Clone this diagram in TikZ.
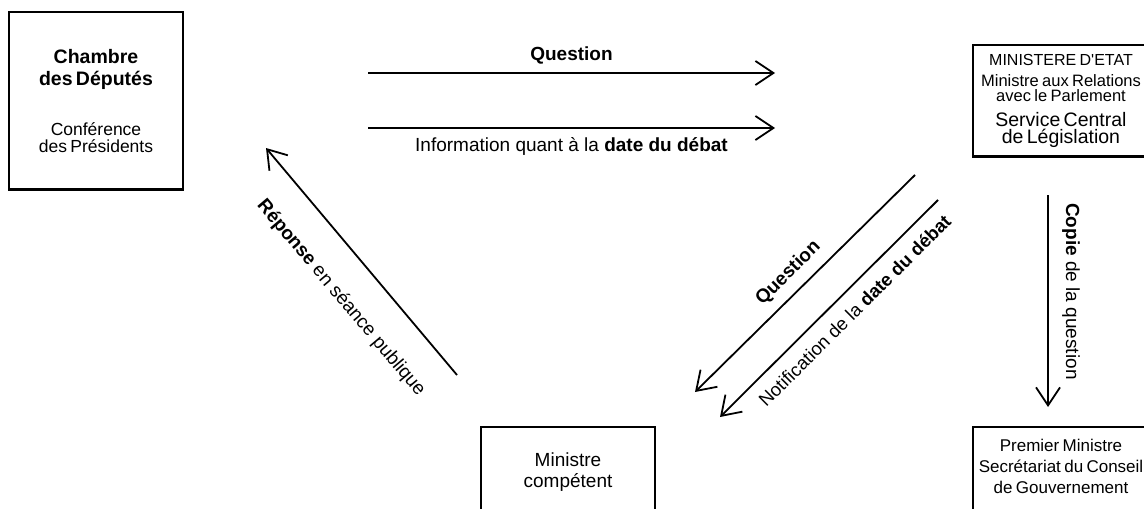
\documentclass[tikz,border=0pt]{standalone}
\usepackage{fontspec}
\setmainfont{Liberation Sans}
\usetikzlibrary{arrows.meta}

\tikzset{
    >={Straight Barb[length=18pt,width=24pt]},
    organe/.style={draw, line width=2.4pt, outer sep=0pt, inner xsep=0pt, align=center, anchor=north},
    fleche/.style={line width=1.8pt},
    etiq/.style={font=\fontsize{19}{22}\selectfont},
    etiqdiag/.style={font=\fontsize{18.5}{22}\selectfont, sloped},
}

\begin{document}
\begin{tikzpicture}[x=1pt,y=-1pt]
    \useasboundingbox (0,0) rectangle (1144,509);
    \clip (0,0) rectangle (1144,509);

    % les organes
    \node[organe, text width=174pt, inner ysep=37.3pt] (chambre) at (96,12)
        {{\fontsize{19.5}{21.7}\selectfont\bfseries Chambre\\des Députés\par}\kern32.3pt
         {\fontsize{17.5}{16.7}\selectfont Conférence\\des Présidents\par}\kern0pt};
    \node[organe, text width=176pt, inner ysep=9.2pt] (etat) at (1061,45)
        {{\fontsize{16}{17}\selectfont MINISTERE D\textquotesingle ETAT\par}\kern7.2pt
         {\fontsize{16.5}{14.4}\selectfont Ministre aux Relations\\avec le Parlement\par}\kern8.3pt
         {\fontsize{19.5}{16.7}\selectfont Service Central\\de Législation\par}\kern0pt};
    \node[organe, text width=176pt, inner ysep=12.5pt] (premier) at (1061,427)
        {\fontsize{17}{21}\selectfont Premier Ministre\\Secrétariat du Conseil\\de Gouvernement\par\kern40pt};
    \node[organe, text width=174pt, inner ysep=26pt] (ministre) at (568,427)
        {\fontsize{19}{20.3}\selectfont Ministre\\compétent\par\kern40pt};

    % les flux
    \coordinate (question-a) at (368,73);
    \coordinate (question-b) at (775,73);
    \coordinate (info-a) at (368,128);
    \coordinate (info-b) at (775,128);
    \coordinate (reponse-a) at (266,148);
    \coordinate (reponse-b) at (457,375);
    \coordinate (transmis-a) at (695,392);
    \coordinate (transmis-b) at (915,175);
    \coordinate (notif-a) at (720,417);
    \coordinate (notif-b) at (938,200);
    \coordinate (copie-a) at (1048,195);
    \coordinate (copie-b) at (1048,407);

    \draw[fleche, ->] (question-a) -- node[etiq, above=5pt] (question) {\textbf{Question}} (question-b);
    \draw[fleche, ->] (info-a) -- node[etiq, below=5.2pt] (info) {Information quant à la \textbf{date du débat}} (info-b);
    \draw[fleche, <-] (reponse-a) -- node[etiqdiag, font=\fontsize{19}{22}\selectfont, below=26pt, pos=0.55] (reponse) {\textbf{Réponse} en séance publique} (reponse-b);
    \draw[fleche, <-] (transmis-a) -- node[etiqdiag, font=\fontsize{19}{22}\selectfont, above=6.1pt, pos=0.485] (transmis) {\textbf{Question}} (transmis-b);
    \draw[fleche, <-] (notif-a) -- node[etiqdiag, below=8.5pt, pos=0.554] (notif) {Notification de la \textbf{date du débat}} (notif-b);
    \draw[fleche, ->] (copie-a) -- node[font=\fontsize{19}{22}\selectfont, pos=0.455, xshift=10pt, rotate=-90, anchor=south] (copie) {\textbf{Copie} de la question} (copie-b);
\end{tikzpicture}
\end{document}
